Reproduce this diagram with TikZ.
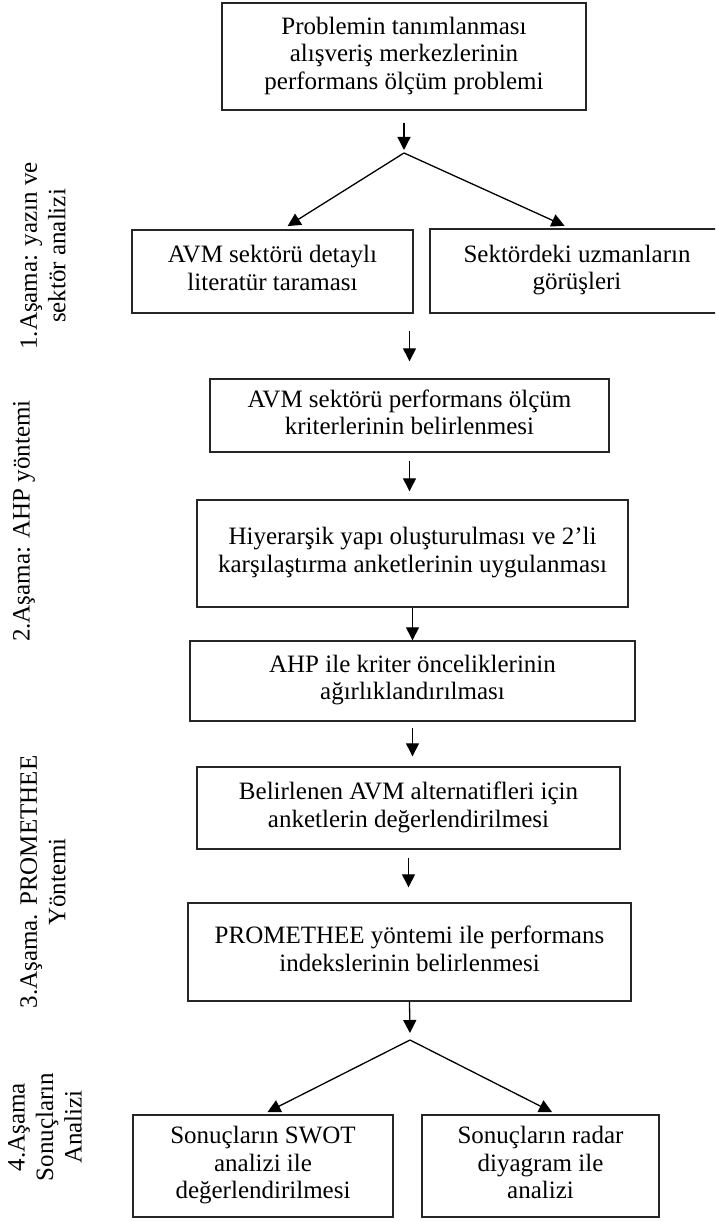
\documentclass[tikz,border=0pt]{standalone}
\usepackage{fontspec}
\setmainfont{Liberation Serif}
\usetikzlibrary{arrows.meta,calc,positioning}

\newcommand{\boxstrut}{\rule[-7pt]{0pt}{22pt}}

\begin{document}
\begin{tikzpicture}[x=1pt,y=-1pt,
    box/.style={draw=black!85,line width=1.4pt,align=center,inner sep=0pt,
      font=\fontsize{25}{27.5}\selectfont,
      execute at begin node=\boxstrut,execute at end node=\boxstrut},
    arr/.style={line width=1.3pt,-{Triangle[width=13pt,length=13pt]}},
    stage/.style={rotate=90,align=center,inner sep=0pt,font=\fontsize{25}{28.5}\selectfont}]
  \path[use as bounding box,clip] (0,0) rectangle (715,1222);

  % kutular
  \node[box,minimum width=364pt,minimum height=107pt] (prob) at (404,56.5)
    {Problemin tanımlanması\\alışveriş merkezlerinin\\performans ölçüm problemi};
  \node[box,minimum width=281pt,minimum height=83pt] (lit) at (272.5,271.5)
    {AVM sektörü detaylı\\literatür taraması};
  \node[box,minimum width=294pt,minimum height=84pt] (uzm) at (577,271)
    {Sektördeki uzmanların\\görüşleri};
  \node[box,minimum width=399pt,minimum height=73pt] (perf) at (409.5,415.5)
    {AVM sektörü performans ölçüm\\kriterlerinin belirlenmesi};
  \node[box,minimum width=431pt,minimum height=107pt] (hiy) at (412.5,553.5)
    {Hiyerarşik yapı oluşturulması ve 2’li\\karşılaştırma anketlerinin uygulanması};
  \node[box,minimum width=445pt,minimum height=80pt] (ahp) at (412.5,681)
    {AHP ile kriter önceliklerinin\\ağırlıklandırılması};
  \node[box,minimum width=423pt,minimum height=82pt] (bel) at (408.5,808)
    {Belirlenen AVM alternatifleri için\\anketlerin değerlendirilmesi};
  \node[box,minimum width=443pt,minimum height=98pt] (prom) at (409.5,952)
    {PROMETHEE yöntemi ile performans\\indekslerinin belirlenmesi};
  \node[box,minimum width=260pt,minimum height=102pt] (swot) at (263,1166)
    {Sonuçların SWOT\\analizi ile\\değerlendirilmesi};
  \node[box,minimum width=237pt,minimum height=102pt] (radar) at (540.5,1166)
    {Sonuçların radar\\diyagram ile\\analizi};

  % asama etiketleri
  \node[stage] (st1) at (43,256) {1.Aşama: yazın ve\\sektör analizi};
  \node[stage] (st2) at (24,521) {2.Aşama: AHP yöntemi};
  \node[stage] (st3) at (43,882) {3.Aşama. PROMETHEE\\Yöntemi};
  \node[stage] (st4) at (45,1127) {4.Aşama\\Sonuçların\\Analizi};

  % oklar
  \coordinate (split1) at (404,153);
  \coordinate (split2) at (410,1040);
  \draw[arr,shorten <=12pt,shorten >=3pt] (prob.south) -- (split1);
  \draw[arr,shorten >=6pt] (split1) -- ([xshift=10pt]lit.north);
  \draw[arr,shorten >=6pt] (split1) -- ([xshift=-7pt]uzm.north);
  \draw[arr,shorten <=17pt,shorten >=17pt] (perf.north |- lit.south) -- (perf.north);
  \draw[arr,shorten <=8pt,shorten >=8pt] (perf.south) -- (perf.south |- hiy.north);
  \draw[arr] (hiy.south) -- (hiy.south |- ahp.north);
  \draw[arr,shorten <=6pt,shorten >=10pt] (ahp.south) -- (ahp.south |- bel.north);
  \draw[arr,shorten <=8pt,shorten >=15pt] (bel.south) -- (bel.south |- prom.north);
  \draw[arr,shorten >=7pt] (prom.south) -- (split2);
  \draw[arr,shorten >=5pt] (split2) -- (swot.north);
  \draw[arr,shorten >=5pt] (split2) -- ([xshift=16pt]radar.north);
\end{tikzpicture}
\end{document}
